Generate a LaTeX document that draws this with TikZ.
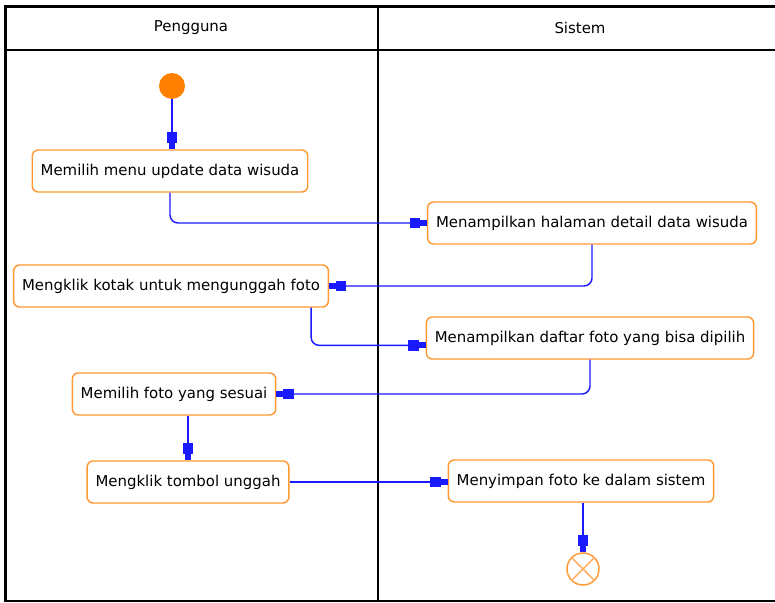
\documentclass[tikz,border=0pt]{standalone}
\usepackage{fontspec}
\setmainfont{DejaVu Sans}
\usetikzlibrary{arrows.meta}

\begin{document}
\begin{tikzpicture}[x=0.75pt,y=-0.75pt,
  actnode/.style={draw=boxorange,line width=1.1pt,rounded corners=4.5pt,fill=white,
    minimum height=31.5pt,inner xsep=6.3pt,font=\fontsize{11.2pt}{13pt}\selectfont},
  lanehead/.style={font=\fontsize{11.2pt}{13pt}\selectfont},
  flow/.style={draw=flowblue,line width=1.1pt,rounded corners=6pt,
    -{Rectangle[length=8pt,width=8pt]Rectangle[length=5pt,width=4.5pt]}},
  laneline/.style={line width=1.6pt}]
\definecolor{boxorange}{HTML}{FF9933}
\definecolor{startorange}{HTML}{FF8000}
\definecolor{crossorange}{HTML}{FFB266}
\definecolor{flowblue}{HTML}{1A1AFF}
\useasboundingbox (0,0) rectangle (775,603);
% swimlanes
\draw[line width=2.25pt] (4,6) -- (775,6);
\draw[line width=2.25pt] (5,5) -- (5,602);
\draw[laneline] (5,601) -- (775,601);
\draw[laneline] (5,50) -- (775,50);
\draw[laneline] (378,5) -- (378,601);
\node[lanehead] (pengguna) at (191,28) {Pengguna};
\node[lanehead] (sistem) at (580,28) {Sistem};
% activities
\node[circle,fill=startorange,minimum size=19.5pt,inner sep=0pt] (mulai) at (172,86) {};
  \foreach \nm/\px/\py/\txt in {pilihmenu/170/171/Memilih menu update data wisuda,
    tampildetail/592/223/Menampilkan halaman detail data wisuda,
    klikkotak/171/286/Mengklik kotak untuk mengunggah foto,
    tampilfoto/590/338/Menampilkan daftar foto yang bisa dipilih,
    pilihfoto/174/394/Memilih foto yang sesuai,
    klikunggah/188/482/Mengklik tombol unggah,
    simpan/581/481/Menyimpan foto ke dalam sistem}
  {  \node [actnode] (\nm) at (\px,\py) {\txt};}
\node[circle,draw=boxorange,line width=1.1pt,minimum size=24pt,inner sep=0pt] (selesai) at (583,569) {};
\draw[crossorange,line width=1.1pt] (selesai.north west) -- (selesai.south east)
  (selesai.north east) -- (selesai.south west);
% flows
\draw[flow] (mulai) -- (mulai |- pilihmenu.north);
\draw[flow] (pilihmenu.south) |- (tampildetail.west);
\draw[flow] (tampildetail.south) |- (klikkotak.east);
\draw[flow] ([xshift=-13.5pt]klikkotak.south east) |- ([yshift=-5.5pt]tampilfoto.west);
\draw[flow] (tampilfoto.south) |- (pilihfoto.east);
\draw[flow] (pilihfoto.south -| klikunggah) -- (klikunggah.north);
\draw[flow] (klikunggah.east) -- (klikunggah.east -| simpan.west);
\draw[flow] (simpan.south -| selesai) -- (selesai.north);
\end{tikzpicture}
\end{document}
